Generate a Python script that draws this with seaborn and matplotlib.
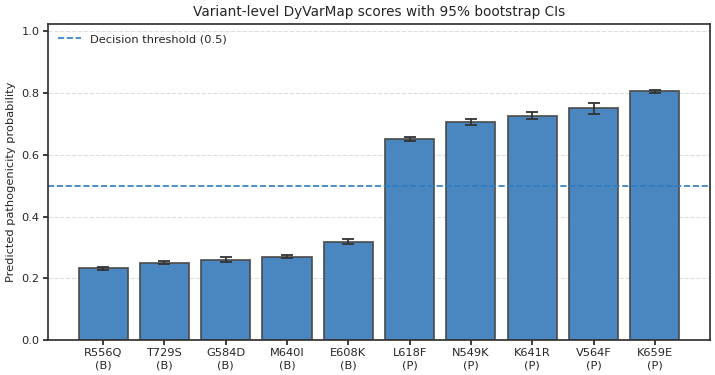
import numpy as np
import pandas as pd
import matplotlib
matplotlib.use("Agg")
import matplotlib.pyplot as plt
import seaborn as sns

variants = ["R556Q", "T729S", "G584D", "M640I", "E608K",
            "L618F", "N549K", "K641R", "V564F", "K659E"]
classes = ["B", "B", "B", "B", "B", "P", "P", "P", "P", "P"]
scores = [0.233, 0.251, 0.260, 0.270, 0.318, 0.650, 0.707, 0.726, 0.751, 0.806]
ci_low = [0.226, 0.245, 0.252, 0.265, 0.311, 0.643, 0.697, 0.714, 0.731, 0.799]
ci_high = [0.238, 0.256, 0.270, 0.274, 0.326, 0.658, 0.716, 0.738, 0.768, 0.810]
threshold = 0.5

labels = [f"{v}\n({c})" for v, c in zip(variants, classes)]
df = pd.DataFrame({"label": labels, "score": scores})

sns.set_theme(style="ticks")
plt.rcParams["font.family"] = ["DejaVu Sans"]

fig, ax = plt.subplots(figsize=(7.15, 3.75), dpi=100)

sns.barplot(data=df, x="label", y="score", ax=ax, color="#4a86c0",
            saturation=1, edgecolor="#4a4a4a", linewidth=1.2, width=0.8)

# error bars from bootstrap CIs
lo = np.array(scores) - np.array(ci_low)
hi = np.array(ci_high) - np.array(scores)
ax.errorbar(np.arange(len(scores)), scores, yerr=[lo, hi], fmt="none",
            ecolor="#333333", elinewidth=1.3, capsize=4, capthick=1.3, zorder=5)

ax.axhline(threshold, color="#2f7bbf", linestyle="--", linewidth=1.2,
           label="Decision threshold (0.5)")

ax.set_ylim(0, 1.023)
ax.set_xlim(-0.9, 9.9)
ax.yaxis.grid(True, linestyle="--", color="#dddddd", linewidth=0.8)
ax.set_axisbelow(True)
ax.set_xlabel("")
ax.set_ylabel("Predicted pathogenicity probability", fontsize=8.2, labelpad=4)
ax.set_title("Variant-level DyVarMap scores with 95% bootstrap CIs", fontsize=9.8)
ax.tick_params(labelsize=8.2, length=3.5, pad=2.5)
for s in ax.spines.values():
    s.set_color("#333333")
ax.legend(loc="upper left", frameon=False, fontsize=8.2)

fig.subplots_adjust(left=0.067, right=0.993, top=0.936, bottom=0.093)
plt.savefig("out.png", dpi=100)
